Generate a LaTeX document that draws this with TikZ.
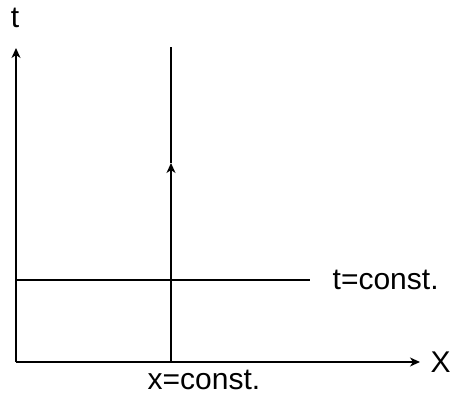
\documentclass[tikz,border=0pt]{standalone}
\usepackage{fontspec}
\setmainfont{Liberation Sans}
\usetikzlibrary{arrows,arrows.meta,positioning}

\begin{document}
\begin{tikzpicture}[x=1pt, y=-1pt, line width=1.4pt,
    >={Stealth[length=10pt, width=9pt, inset=3pt]},
    lbl/.style={inner sep=0, font=\fontsize{30}{32}\selectfont}]
        \useasboundingbox (0, 0) rectangle (452, 398);

        \coordinate (o) at (16, 362);
        \coordinate (ttop) at (16, 48);
        \coordinate (xend) at (420, 362);
        \coordinate (lbot) at (171, 362);
        \coordinate (lmid) at (171, 163);
        \coordinate (ltop) at (171, 47);
        \coordinate (hl) at (16, 280);
        \coordinate (hr) at (310, 280);

        % axes
        \draw[->] (o) -- (ttop);
        \draw[->] (o) -- (xend);
        \node[lbl] (t) at (15, 18) {t};
        \node[lbl, right=10 of xend] (x) {X};

        % x=const.
        \draw[->] (lbot) -- (lmid);
        \draw (lmid) -- (ltop);
        \node[lbl] (xc) at (204, 380) {x=const.};

        % t=const.
        \draw (hl) -- (hr);
        \node[lbl, right=22 of hr] (tc) {t=const.};
      \end{tikzpicture}
\end{document}
